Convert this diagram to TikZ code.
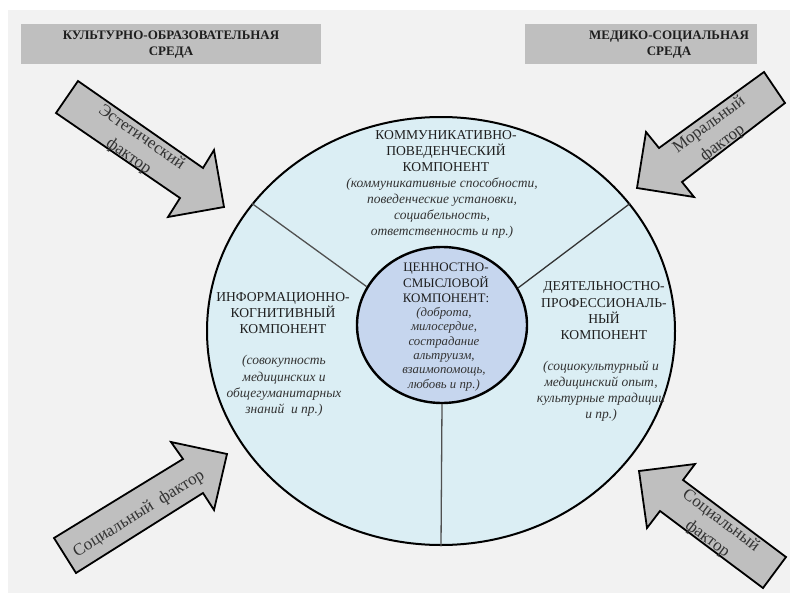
\documentclass[tikz,border=0pt]{standalone}
\usepackage{fontspec}
\setmainfont{Liberation Serif}
\usetikzlibrary{shapes.geometric}
\definecolor{bgc}{HTML}{F2F2F2}
\definecolor{boxc}{HTML}{BFBFBF}
\definecolor{outerc}{HTML}{DBEEF4}
\definecolor{innerc}{HTML}{C6D6EE}
\definecolor{txtc}{HTML}{1E1E1E}
\definecolor{itc}{HTML}{333333}
\definecolor{spokec}{HTML}{505050}
\tikzset{
  envbox/.style={fill=boxc, draw=none, inner sep=0pt},
  envtxt/.style={font=\bfseries\fontsize{13}{16}\selectfont, text=txtc, align=center, inner sep=0pt},
  comptitle/.style={font=\fontsize{13.6}{16.3}\selectfont, text=txtc, align=center, inner sep=0pt},
  compdesc/.style={font=\itshape\fontsize{13.5}{16.2}\selectfont, text=itc, align=center, inner sep=0pt},
  innertitle/.style={font=\fontsize{13}{15.5}\selectfont, text=txtc, align=center, inner sep=0pt},
  innerdesc/.style={font=\itshape\fontsize{12.8}{14.4}\selectfont, text=itc, align=center, inner sep=0pt},
  factorarrow/.style={fill=boxc, draw=black, line width=1.8pt, line join=miter},
  factortxt/.style={font=\fontsize{17}{22.5}\selectfont, text=itc, align=center, inner sep=0pt},
  spoke/.style={draw=spokec, line width=1.3pt}
}
\begin{document}
\begin{tikzpicture}[x=1pt,y=-1pt]
\useasboundingbox (0,0) rectangle (790,597);
\fill[bgc] (8,10) rectangle (790,593);

% environment boxes
\node[envbox, minimum width=300pt, minimum height=40pt] (envLbox) at (171,44) {};
\node[envtxt] (envL) at (171,45) {КУЛЬТУРНО-ОБРАЗОВАТЕЛЬНАЯ\\СРЕДА};
\node[envbox, minimum width=232pt, minimum height=40pt] (envRbox) at (641,44) {};
\node[envtxt] (envR) at (669,45) {МЕДИКО-СОЦИАЛЬНАЯ\\СРЕДА};

% factor arrows
\draw[factorarrow] (78,81) -- (203,168) -- (214,150) -- (224,207) -- (168,217) -- (180,198) -- (56,113) -- cycle;
\draw[factorarrow] (764,72) -- (785,103) -- (682,182) -- (694,197) -- (637,188) -- (646,132) -- (659,148) -- cycle;
\draw[factorarrow] (54,538) -- (183,459) -- (171,442) -- (227,454) -- (214,510) -- (203,493) -- (76,573) -- cycle;
\draw[factorarrow] (786,557) -- (683,480) -- (695,464) -- (639,471) -- (647,528) -- (660,511) -- (763,588) -- cycle;

\node[factortxt, rotate=-34.8] (fEst) at (135,147) {Эстетический\\фактор};
\node[factortxt, rotate=36.7] (fMor) at (716,134) {Моральный\\фактор};
\node[factortxt, rotate=31.8] (fSocL) at (139,514) {Социальный\ \ фактор};
\node[factortxt, rotate=-36.8] (fSocR) at (714,530) {Социальный\\фактор};

% outer circle
\node[ellipse, draw=black, line width=2pt, fill=outerc, minimum width=468pt, minimum height=428pt, inner sep=0pt] (outer) at (441,331) {};
% inner circle
\node[ellipse, draw=black, line width=2.4pt, fill=innerc, minimum width=170pt, minimum height=156pt, inner sep=0pt] (inner) at (442,325) {};

% spokes
\draw[spoke] (inner.153) -- (outer.146);
\draw[spoke, draw=black!80] (inner.26) -- (outer.34.3);
\draw[spoke] (inner.south) -- (outer.south);

% component texts
\node[comptitle] (cTopT) at (446,151) {КОММУНИКАТИВНО-\\ПОВЕДЕНЧЕСКИЙ\\КОМПОНЕНТ};
\node[compdesc] (cTopD) at (442,208) {(коммуникативные способности,\\поведенческие установки,\\социабельность,\\ответственность и пр.)};

\node[comptitle] (cLeftT) at (283,313) {ИНФОРМАЦИОННО-\\КОГНИТИВНЫЙ\\КОМПОНЕНТ};
\node[compdesc] (cLeftD) at (284,386) {(совокупность\\медицинских и\\общегуманитарных\\знаний\ \ и пр.)};

\node[comptitle] (cRightT) at (604,311) {ДЕЯТЕЛЬНОСТНО-\\ПРОФЕССИОНАЛЬ-\\НЫЙ\\КОМПОНЕНТ};
\node[compdesc] (cRightD) at (601,391) {(социокультурный и\\медицинский опыт,\\культурные традиции\\и пр.)};

\node[innertitle] (cInT) at (446,283) {ЦЕННОСТНО-\\СМЫСЛОВОЙ\\КОМПОНЕНТ:};
\node[innerdesc] (cInD) at (444,349) {(доброта,\\милосердие,\\сострадание\\альтруизм,\\взаимопомощь,\\любовь и пр.)};
\end{tikzpicture}
\end{document}
